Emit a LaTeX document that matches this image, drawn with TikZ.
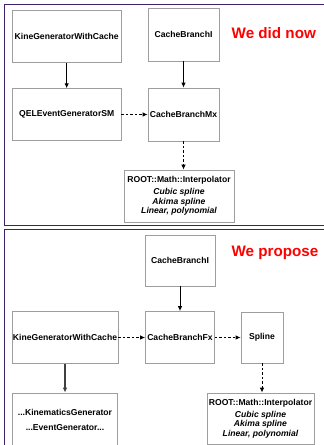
\documentclass[tikz,border=0pt]{standalone}
\usepackage{fontspec}
\setmainfont{Liberation Sans}
\usetikzlibrary{arrows.meta}
\definecolor{framepurple}{HTML}{3E1F6E}
\begin{document}
\begin{tikzpicture}[x=1pt,y=-1pt,
    box/.style={draw=black!38,line width=0.8pt,inner sep=1pt,align=center,
      font=\fontsize{8.6}{10}\selectfont\bfseries},
    panel/.style={draw=framepurple,line width=1.3pt},
    flow/.style={-{Latex[length=5pt,width=4.5pt]},line width=0.9pt},
    dflow/.style={flow,dash pattern=on 2.5pt off 2pt},
    heading/.style={text=red,font=\fontsize{15.2}{18}\selectfont\bfseries}]
  \clip (0,0) rectangle (324,445);
  \draw[panel] (4.7,4.7) rectangle (340,225.7);
  \draw[panel] (4.7,229.7) rectangle (340,470);
  % we did now
  \draw
    (66.7,36.5) node[box,minimum width=108.7pt,minimum height=51.6pt] (kine){KineGeneratorWithCache}
    (183.5,34.7) node[box,minimum width=71pt,minimum height=52.7pt] (branchI){CacheBranchI}
    (66.7,114.5) node[box,minimum width=108.7pt,minimum height=51.6pt] (qel){QELEventGeneratorSM}
    (183.5,114.5) node[box,minimum width=71pt,minimum height=53pt] (branchMx){CacheBranchMx}
    (179,196) node[box,minimum width=110pt,minimum height=52pt] (root){ROOT::Math::Interpolator\\[2pt]
      \itshape Cubic spline\\[-0.5pt] \itshape Akima spline\\[-0.5pt] \itshape Linear, polynomial}
    (273.8,33.5) node[heading] (didnow){We did now};
  \begin{scope}[flow]
    \draw (kine) to (qel);
    \draw (branchI) to (branchMx);
    \draw[dflow] (qel) to (branchMx);
    \draw[dflow] (branchMx) to (branchMx |- root.north);
  \end{scope}
  % we propose
  \draw
    (180,260.8) node[box,minimum width=70pt,minimum height=50.3pt] (branchI2){CacheBranchI}
    (65,337.5) node[box,minimum width=105.7pt,minimum height=51.6pt] (kine2){KineGeneratorWithCache}
    (180,337.5) node[box,minimum width=69pt,minimum height=52pt] (branchFx){CacheBranchFx}
    (262,337.5) node[box,minimum width=42pt,minimum height=51pt] (spline){Spline}
    (65,420) node[box,minimum width=105pt,minimum height=54pt] (kinem){...KinematicsGenerator\\[5pt] ...EventGenerator...}
    (260.5,418.5) node[box,minimum width=107pt,minimum height=51pt] (root2){ROOT::Math::Interpolator\\[2pt]
      \itshape Cubic spline\\[-0.5pt] \itshape Akima spline\\[-0.5pt] \itshape Linear, polynomial}
    (275,253.3) node[heading] (propose){We propose};
  \begin{scope}[flow]
    \draw (branchI2) to (branchFx);
    \draw[line width=1.5pt,black!75] (kine2) to (kinem);
    \draw[dflow] (kine2) to (branchFx);
    \draw[dflow] (branchFx) to (spline);
    \draw[dflow] (spline) to (spline |- root2.north);
  \end{scope}
\end{tikzpicture}
\end{document}
